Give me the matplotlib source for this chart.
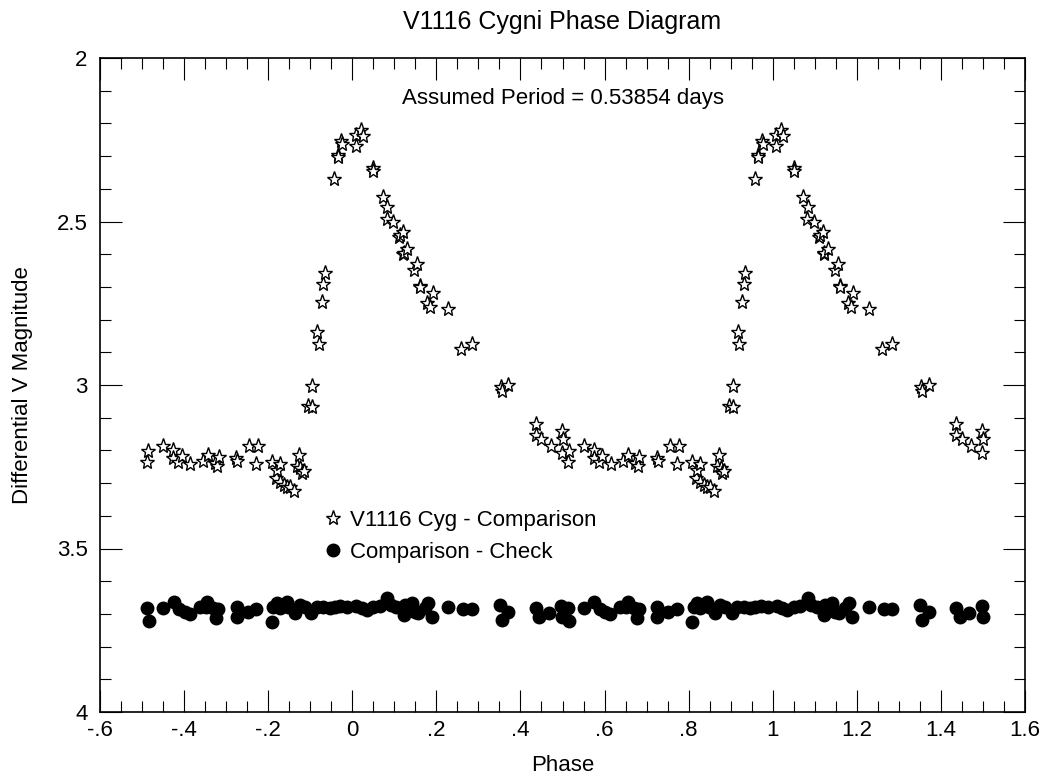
import matplotlib
matplotlib.use("Agg")
import matplotlib.pyplot as plt
from matplotlib.ticker import MultipleLocator, FuncFormatter

plt.rcParams['font.family'] = ['Liberation Sans', 'DejaVu Sans']

# Variable star minus comparison, phase in [-0.5, 0.5]
star_phase = [-0.488, -0.485, -0.450, -0.426, -0.426, -0.414, -0.406, -0.385, -0.355, -0.344,
              -0.327, -0.321, -0.317, -0.276, -0.274, -0.245, -0.228, -0.224, -0.192, -0.182,
              -0.180, -0.172, -0.172, -0.163, -0.156, -0.149, -0.139, -0.132, -0.127, -0.124,
              -0.120, -0.115, -0.105, -0.095, -0.095, -0.083, -0.080, -0.073, -0.069, -0.065,
              -0.043, -0.034, -0.034, -0.026, -0.024, 0.008, 0.008, 0.020, 0.025, 0.050,
              0.050, 0.073, 0.083, 0.082, 0.097, 0.111, 0.113, 0.120, 0.121, 0.123,
              0.131, 0.147, 0.155, 0.160, 0.161, 0.178, 0.186, 0.191, 0.228, 0.259,
              0.284, 0.353, 0.355, 0.371, 0.437, 0.437, 0.450, 0.472, 0.498, 0.500,
              0.498]
star_mag = [3.237, 3.202, 3.188, 3.199, 3.224, 3.234, 3.217, 3.241, 3.231, 3.214,
            3.239, 3.249, 3.221, 3.224, 3.231, 3.186, 3.241, 3.188, 3.234, 3.285,
            3.260, 3.241, 3.296, 3.306, 3.311, 3.313, 3.323, 3.249, 3.214, 3.255,
            3.270, 3.262, 3.064, 3.066, 3.003, 2.837, 2.875, 2.747, 2.691, 2.658,
            2.370, 2.296, 2.303, 2.255, 2.263, 2.270, 2.235, 2.219, 2.240, 2.337,
            2.347, 2.424, 2.456, 2.493, 2.500, 2.546, 2.541, 2.531, 2.599, 2.595,
            2.585, 2.648, 2.629, 2.697, 2.701, 2.750, 2.760, 2.719, 2.767, 2.890,
            2.875, 3.005, 3.017, 3.000, 3.119, 3.153, 3.165, 3.188, 3.140, 3.165,
            3.209]

# Comparison minus check
check_phase = [-0.488, -0.484, -0.450, -0.425, -0.411, -0.399, -0.387, -0.363, -0.348, -0.345,
               -0.331, -0.323, -0.319, -0.275, -0.275, -0.248, -0.228, -0.192, -0.188, -0.180,
               -0.172, -0.156, -0.152, -0.137, -0.125, -0.113, -0.097, -0.085, -0.069, -0.053,
               -0.042, -0.029, -0.012, 0.010, 0.022, 0.034, 0.050, 0.066, 0.083, 0.091,
               0.105, 0.123, 0.125, 0.141, 0.149, 0.157, 0.173, 0.181, 0.189, 0.228,
               0.264, 0.284, 0.351, 0.355, 0.371, 0.437, 0.445, 0.467, 0.497, 0.499]
check_mag = [3.683, 3.721, 3.683, 3.663, 3.686, 3.693, 3.700, 3.678, 3.680, 3.663,
             3.683, 3.714, 3.686, 3.678, 3.709, 3.693, 3.686, 3.724, 3.678, 3.668,
             3.683, 3.663, 3.678, 3.698, 3.673, 3.680, 3.698, 3.678, 3.680, 3.683,
             3.678, 3.676, 3.678, 3.676, 3.683, 3.688, 3.680, 3.676, 3.652, 3.673,
             3.680, 3.703, 3.673, 3.666, 3.693, 3.698, 3.683, 3.668, 3.709, 3.680,
             3.686, 3.686, 3.673, 3.719, 3.693, 3.683, 3.709, 3.698, 3.676, 3.709]

period = 0.53854


def phase_label(v, pos):
    s = '%.1f' % v
    if s.endswith('.0'):
        s = s[:-2]
    if s == '-0':
        s = '0'
    s = s.replace('-0.', '-.')
    if s.startswith('0.'):
        s = s[1:]
    return s


fig = plt.figure(figsize=(10.45, 7.8), dpi=100)
ax = fig.add_axes([100 / 1045, 68 / 780, 925 / 1045, 654 / 780])

# plot two cycles
xs = star_phase + [p + 1 for p in star_phase]
ys = star_mag + star_mag
ax.plot(xs, ys, linestyle='none', marker='*', markersize=11, markerfacecolor='white',
        markeredgecolor='black', markeredgewidth=1.0, label='V1116 Cyg - Comparison')
xc = check_phase + [p + 1 for p in check_phase]
yc = check_mag + check_mag
ax.plot(xc, yc, linestyle='none', marker='o', markersize=9, color='black',
        label='Comparison - Check')

ax.set_xlim(-0.6, 1.6)
ax.set_ylim(4, 2)
ax.xaxis.set_major_locator(MultipleLocator(0.2))
ax.xaxis.set_minor_locator(MultipleLocator(0.05))
ax.yaxis.set_major_locator(MultipleLocator(0.5))
ax.yaxis.set_minor_locator(MultipleLocator(0.1))
ax.xaxis.set_major_formatter(FuncFormatter(phase_label))
ax.yaxis.set_major_formatter(FuncFormatter(lambda v, p: '%g' % v))
ax.tick_params(which='both', direction='in', top=True, right=True, labelsize=16, width=0.8)
ax.tick_params(which='major', length=16)
ax.tick_params(axis='x', which='major', pad=6)
ax.tick_params(axis='y', which='major', pad=9)
ax.tick_params(which='minor', length=8)
for sp in ax.spines.values():
    sp.set_linewidth(1.2)

ax.set_xlabel('Phase', fontsize=16, labelpad=10)
ax.set_ylabel('Differential V Magnitude', fontsize=16, labelpad=17)
ax.set_title('V1116 Cygni Phase Diagram', fontsize=18, pad=21)
ax.text(0.5, 2.125, 'Assumed Period = %.5f days' % period, fontsize=16,
        ha='center', va='center')

ax.legend(loc='upper left', bbox_to_anchor=(0.221, 0.34), frameon=False, numpoints=1,
          fontsize=16, handlelength=0.8, handletextpad=0.35, labelspacing=0.5)

plt.savefig('out.png', dpi=100)
